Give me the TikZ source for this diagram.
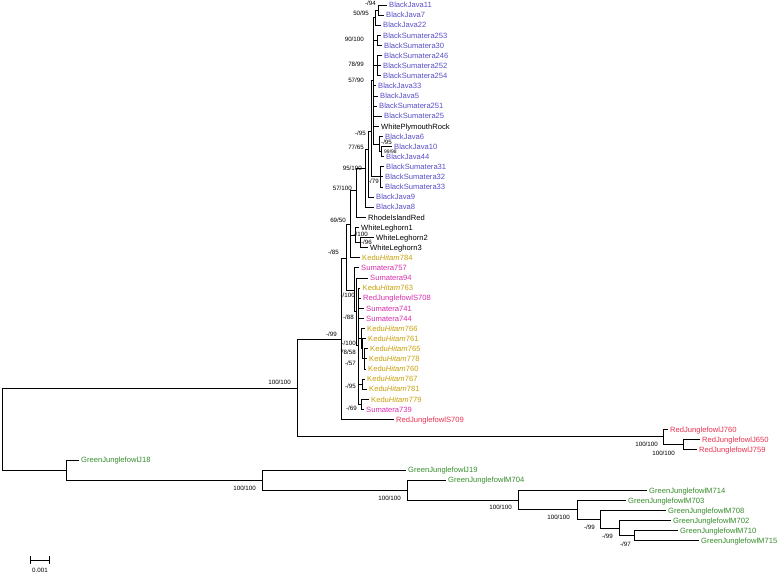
\documentclass[tikz,border=0pt]{standalone}
\usepackage{fontspec}
\setmainfont{Liberation Sans}
\definecolor{sininen}{RGB}{88,78,200}
\definecolor{kulta}{RGB}{200,160,10}
\definecolor{pinkki}{RGB}{215,45,170}
\definecolor{punainen}{RGB}{232,48,80}
\definecolor{vihrea}{RGB}{52,140,42}
\tikzset{
  oksa/.style={line width=0.9pt},
  lehti/.style={anchor=west,inner xsep=2.5pt,inner ysep=0pt,text height=5.5pt,text depth=0pt,font=\fontsize{7.6}{8}\selectfont},
  tuki/.style={anchor=east,inner sep=0pt,font=\fontsize{6.2}{7}\selectfont},
}
\begin{document}
\begin{tikzpicture}[x=1pt,y=-1pt]
\newcommand\lehti[5]{\node[lehti,text=#4] (#1) at (#2-2.5,{5+10.11*#3}) {#5};}
\useasboundingbox (0,0) rectangle (778,573);
% lehdet
\lehti{bj11}{389}{0}{sininen}{BlackJava11}
\lehti{bj7}{386}{1}{sininen}{BlackJava7}
\lehti{bj22}{383}{2}{sininen}{BlackJava22}
\lehti{bs253}{383}{3}{sininen}{BlackSumatera253}
\lehti{bs30}{384}{4}{sininen}{BlackSumatera30}
\lehti{bs246}{384}{5}{sininen}{BlackSumatera246}
\lehti{bs252}{383}{6}{sininen}{BlackSumatera252}
\lehti{bs254}{383}{7}{sininen}{BlackSumatera254}
\lehti{bj33}{378}{8}{sininen}{BlackJava33}
\lehti{bj5}{380}{9}{sininen}{BlackJava5}
\lehti{bs251}{379}{10}{sininen}{BlackSumatera251}
\lehti{bs25}{384}{11}{sininen}{BlackSumatera25}
\lehti{wpr}{381}{12}{black}{WhitePlymouthRock}
\lehti{bj6}{385}{13}{sininen}{BlackJava6}
\lehti{bj10}{394}{14}{sininen}{BlackJava10}
\lehti{bj44}{386}{15}{sininen}{BlackJava44}
\lehti{bs31}{386}{16}{sininen}{BlackSumatera31}
\lehti{bs32}{385}{17}{sininen}{BlackSumatera32}
\lehti{bs33}{385}{18}{sininen}{BlackSumatera33}
\lehti{bj9}{376}{19}{sininen}{BlackJava9}
\lehti{bj8}{376}{20}{sininen}{BlackJava8}
\lehti{rir}{368}{21}{black}{RhodeIslandRed}
\lehti{wl1}{361}{22}{black}{WhiteLeghorn1}
\lehti{wl2}{376}{23}{black}{WhiteLeghorn2}
\lehti{wl3}{370}{24}{black}{WhiteLeghorn3}
\lehti{kh784}{362}{25}{kulta}{Kedu\textit{Hitam}784}
\lehti{s757}{361}{26}{pinkki}{Sumatera757}
\lehti{s94}{370}{27}{pinkki}{Sumatera94}
\lehti{kh763}{362.5}{28}{kulta}{Kedu\textit{Hitam}763}
\lehti{rs708}{363}{29}{pinkki}{RedJunglefowlS708}
\lehti{s741}{366}{30}{pinkki}{Sumatera741}
\lehti{s744}{366}{31}{pinkki}{Sumatera744}
\lehti{kh766}{367}{32}{kulta}{Kedu\textit{Hitam}766}
\lehti{kh761}{368}{33}{kulta}{Kedu\textit{Hitam}761}
\lehti{kh765}{370}{34}{kulta}{Kedu\textit{Hitam}765}
\lehti{kh778}{369}{35}{kulta}{Kedu\textit{Hitam}778}
\lehti{kh760}{368}{36}{kulta}{Kedu\textit{Hitam}760}
\lehti{kh767}{367}{37}{kulta}{Kedu\textit{Hitam}767}
\lehti{kh781}{369}{38}{kulta}{Kedu\textit{Hitam}781}
\lehti{kh779}{371}{39}{kulta}{Kedu\textit{Hitam}779}
\lehti{s739}{366}{40}{pinkki}{Sumatera739}
\lehti{rs709}{396}{41}{punainen}{RedJunglefowlS709}
\lehti{rj760}{670}{42}{punainen}{RedJunglefowlJ760}
\lehti{rj650}{702}{43}{punainen}{RedJunglefowlJ650}
\lehti{rj759}{699}{44}{punainen}{RedJunglefowlJ759}
\lehti{gj18}{81}{45}{vihrea}{GreenJunglefowlJ18}
\lehti{gj19}{408}{46}{vihrea}{GreenJunglefowlJ19}
\lehti{gm704}{448}{47}{vihrea}{GreenJunglefowlM704}
\lehti{gm714}{649}{48}{vihrea}{GreenJunglefowlM714}
\lehti{gm703}{628}{49}{vihrea}{GreenJunglefowlM703}
\lehti{gm708}{668}{50}{vihrea}{GreenJunglefowlM708}
\lehti{gm702}{673}{51}{vihrea}{GreenJunglefowlM702}
\lehti{gm710}{680}{52}{vihrea}{GreenJunglefowlM710}
\lehti{gm715}{701}{53}{vihrea}{GreenJunglefowlM715}
% solmut
\coordinate (juuri) at (2,429);
\coordinate (sA) at (297,388);
\coordinate (sB) at (341,339);
\coordinate (sD) at (346,258);
\coordinate (sE) at (350,224);
\coordinate (sF57) at (356,190);
\coordinate (sF95) at (365,168);
\coordinate (sF77) at (368,149);
\coordinate (sF95b) at (371,131);
\coordinate (sP) at (373,80.8);
\coordinate (sN1) at (378,10.1);
\coordinate (sN2) at (375.5,17.6);
\coordinate (sN3) at (377,40.4);
\coordinate (sN4) at (377,65.7);
\coordinate (sM1) at (381.5,151.6);
\coordinate (sM2) at (379.5,144);
\coordinate (sM3) at (380,176.9);
\coordinate (sW) at (355,235);
\coordinate (sW2) at (360,242.6);
\coordinate (sH) at (354,290);
\coordinate (sH2) at (356.5,311);
\coordinate (sH3) at (358.5,345);
\coordinate (sKb) at (361,338.6);
\coordinate (sKa2) at (362.5,348.7);
\coordinate (sKa) at (364,358.9);
\coordinate (sKc) at (362,384.1);
\coordinate (sKd) at (361.5,404.3);
\coordinate (sRJ1) at (663,436.7);
\coordinate (sRJ2) at (683,444.8);
\coordinate (sG) at (66,470);
\coordinate (sG2) at (262,480.1);
\coordinate (sG3) at (407,490.1);
\coordinate (sG4) at (518,500.1);
\coordinate (sG5) at (577,509.9);
\coordinate (sG6) at (600,519.4);
\coordinate (sG7) at (619,528.2);
\coordinate (sG8) at (634,535.8);
% oksat
\draw[oksa] (juuri) |- (sA) (juuri) |- (sG);
\draw[oksa] (sA) |- (sB) (sA) |- (sRJ1);
\draw[oksa] (sB) |- (sD) (sB) |- (rs709);
\draw[oksa] (sD) |- (sE) (sD) |- (sH);
\draw[oksa] (sE) |- (sF57) (sE) |- (sW) (sE) |- (kh784);
\draw[oksa] (sF57) |- (sF95) (sF57) |- (rir);
\draw[oksa] (sF95) |- (sF77) (sF95) |- (bj8);
\draw[oksa] (sF77) |- (sF95b) (sF77) |- (bj9);
\draw[oksa] (sF95b) |- (sP) (sF95b) |- (sM3);
\draw[oksa] (sP) |- (sN2) (sP) |- (sN3) (sP) |- (sN4) (sP) |- (bj33) (sP) |- (bj5)
  (sP) |- (bs251) (sP) |- (bs25) (sP) |- (wpr) (sP) |- (sM2);
\draw[oksa] (sN2) |- (sN1) (sN2) |- (bj22);
\draw[oksa] (sN1) |- (bj11) (sN1) |- (bj7);
\draw[oksa] (sN3) |- (bs253) (sN3) |- (bs30);
\draw[oksa] (sN4) |- (bs246) (sN4) |- (bs252) (sN4) |- (bs254);
\draw[oksa] (sM2) |- (bj6) (sM2) |- (sM1);
\draw[oksa] (sM1) |- (bj10) (sM1) |- (bj44);
\draw[oksa] (sM3) |- (bs31) (sM3) |- (bs32) (sM3) |- (bs33);
\draw[oksa] (sW) |- (wl1) (sW) |- (sW2);
\draw[oksa] (sW2) |- (wl2) (sW2) |- (wl3);
\draw[oksa] (sH) |- (s757) (sH) |- (sH2);
\draw[oksa] (sH2) |- (s94) (sH2) |- (sH3);
\draw[oksa] (sH3) |- (kh763) (sH3) |- (rs708) (sH3) |- (s741) (sH3) |- (s744)
  (sH3) |- (sKb) (sH3) |- (sKc) (sH3) |- (sKd);
\draw[oksa] (sKb) |- (kh766) (sKb) |- (sKa2);
\draw[oksa] (sKa2) |- (kh761) (sKa2) |- (sKa);
\draw[oksa] (sKa) |- (kh765) (sKa) |- (kh778) (sKa) |- (kh760);
\draw[oksa] (sKc) |- (kh767) (sKc) |- (kh781);
\draw[oksa] (sKd) |- (kh779) (sKd) |- (s739);
\draw[oksa] (sRJ1) |- (rj760) (sRJ1) |- (sRJ2);
\draw[oksa] (sRJ2) |- (rj650) (sRJ2) |- (rj759);
\draw[oksa] (sG) |- (gj18) (sG) |- (sG2);
\draw[oksa] (sG2) |- (gj19) (sG2) |- (sG3);
\draw[oksa] (sG3) |- (gm704) (sG3) |- (sG4);
\draw[oksa] (sG4) |- (gm714) (sG4) |- (sG5);
\draw[oksa] (sG5) |- (gm703) (sG5) |- (sG6);
\draw[oksa] (sG6) |- (gm708) (sG6) |- (sG7);
\draw[oksa] (sG7) |- (gm702) (sG7) |- (sG8);
\draw[oksa] (sG8) |- (gm710) (sG8) |- (gm715);
% tukiarvot
\node[tuki] (t1) at (376,3) {-/94};
\node[tuki] (t2) at (369,13) {50/95};
\node[tuki] (t3) at (364,39.5) {90/100};
\node[tuki] (t4) at (364,64.5) {78/99};
\node[tuki] (t5) at (364,80.5) {57/90};
\node[tuki] (t6) at (366,133) {-/95};
\node[tuki,anchor=west] (t7) at (381,142) {-/95};
\node[tuki,anchor=west,font=\fontsize{5}{5.5}\selectfont] (t8) at (384,151.6) {99/98};
\node[tuki] (t9) at (364,147) {77/65};
\node[tuki] (t10) at (379,181) {-/79};
\node[tuki] (t11) at (362,168) {95/100};
\node[tuki] (t12) at (352,188) {57/100};
\node[tuki] (t13) at (346,220) {69/50};
\node[tuki] (t14) at (368,234) {-/100};
\node[tuki] (t15) at (372,242.5) {-/96};
\node[tuki] (t16) at (339,252) {-/85};
\node[tuki] (t17) at (355,295) {-/100};
\node[tuki] (t18) at (354,317) {-/88};
\node[tuki] (t19) at (356,343) {-/100};
\node[tuki] (t20) at (356,352) {78/58};
\node[tuki] (t21) at (356,363) {-/57};
\node[tuki] (t22) at (356,386) {-/95};
\node[tuki] (t23) at (357,408) {-/69};
\node[tuki] (t24) at (337,334) {-/99};
\node[tuki] (t25) at (291,382) {100/100};
\node[tuki] (t26) at (658,444) {100/100};
\node[tuki] (t27) at (675,453) {100/100};
\node[tuki] (t28) at (256,488) {100/100};
\node[tuki] (t29) at (401,498) {100/100};
\node[tuki] (t30) at (512,507) {100/100};
\node[tuki] (t31) at (570,517) {100/100};
\node[tuki] (t32) at (595,527) {-/99};
\node[tuki] (t33) at (613,536) {-/99};
\node[tuki] (t34) at (631,544) {-/97};
% mittakaava
\coordinate (mA) at (30,560);
\coordinate (mB) at (50,560);
\draw[oksa,|-|] (mA) -- (mB);
\node[tuki,anchor=center] (mitta) at (40,570) {0.001};
\end{tikzpicture}
\end{document}
